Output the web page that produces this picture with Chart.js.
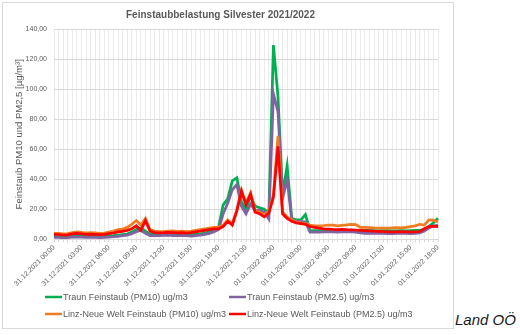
<!DOCTYPE html>
<html>
<head>
<meta charset="utf-8">
<script src="https://cdn.jsdelivr.net/npm/chart.js@4.4.1/dist/chart.umd.min.js"></script>
<style>
  body { margin: 0; background: #fff; }
  #box { position: absolute; left: 2px; top: 2px; width: 450px; height: 325px; border: 1px solid #d9d9d9; }
  #src { position: absolute; left: 455px; top: 311px; font: italic 15px "Liberation Sans", Arial, sans-serif; color: #1a1a1a; }
</style>
</head>
<body>
<div id="box"><canvas id="myChart" width="450" height="325"></canvas></div>
<div id="src">Land OÖ</div>
<script>
// half-hourly values, 31.12.2021 00:00 .. 01.01.2022 18:00
var xTickLabels = ['31.12.2021 00:00', '31.12.2021 03:00', '31.12.2021 06:00', '31.12.2021 09:00',
    '31.12.2021 12:00', '31.12.2021 15:00', '31.12.2021 18:00', '31.12.2021 21:00',
    '01.01.2022 00:00', '01.01.2022 03:00', '01.01.2022 06:00', '01.01.2022 09:00',
    '01.01.2022 12:00', '01.01.2022 15:00', '01.01.2022 18:00'];

var categories = [];
for (var i = 0; i <= 84; i++) {
    var day = i < 48 ? '31.12.2021' : '01.01.2022';
    var h = Math.floor((i % 48) / 2);
    categories.push(day + ' ' + (h < 10 ? '0' + h : h) + ':' + (i % 2 ? '30' : '00'));
}

var traunPM10 = [2.0, 1.8, 1.5, 1.7, 2.2, 2.5, 2.3, 2.0, 2.1, 2.0, 1.8, 1.9, 2.2, 2.4, 2.8, 3.2, 3.5, 4.8,
    6.5, 7.5, 5.5, 3.5,
    3.2, 3.3, 3.5, 3.6, 3.4, 3.3, 3.5, 3.2, 3.0, 3.3, 3.6, 4.2,
    5.0, 6.0, 8.0, 23, 27, 39, 41, 25, 20, 29, 22, 21, 20, 17.5,
    129.5, 95, 30, 49, 14, 13, 13, 16.5, 6.0,
    5.8, 5.8, 5.8, 5.9, 5.9, 5.8, 5.9, 6.0, 6.0, 6.0, 5.8, 5.9, 5.8, 5.8, 5.7, 5.8, 5.8, 5.6, 5.7, 5.8,
    5.7, 5.8, 5.9, 6.0, 6.5, 8.5, 11.0, 14.0];
var traunPM25 = [1.3, 1.2, 1.0, 1.1, 1.4, 1.6, 1.5, 1.3, 1.4, 1.3, 1.2, 1.3, 1.5, 1.7, 2.0, 2.4, 2.8, 3.8,
    5.0, 6.0, 4.0, 2.5,
    2.4, 2.5, 2.6, 2.7, 2.5, 2.4, 2.6, 2.4, 2.2, 2.5, 2.8, 3.3,
    4.0, 5.0, 6.5, 17, 24, 33, 36.5, 22, 17, 23.5, 19, 19.5, 18, 13.5,
    97, 85, 27, 40, 13, 12, 12, 11.5, 4.8,
    4.8, 4.8, 4.9, 5.0, 4.9, 4.8, 5.0, 5.0, 4.9, 4.8, 4.2, 4.0, 4.0, 3.9, 4.0, 3.9, 3.8, 3.8, 3.9, 4.0,
    3.9, 3.8, 4.0, 4.2, 5.5, 7.5, 8.8, 9.5];
var linzPM10 = [4.0, 4.0, 3.6, 3.8, 4.5, 5.0, 4.6, 4.2, 4.4, 4.3, 4.0, 4.2, 4.8, 5.5, 6.5, 6.8, 8.0, 10.0,
    12.5, 9.5, 14.0, 6.5,
    5.5, 5.3, 5.2, 5.5, 5.6, 5.3, 5.4, 5.2, 5.5, 6.0, 6.5, 7.0,
    7.5, 8.0, 8.0, 9.5, 13, 10.5, 19.5, 33, 24, 31, 19, 18, 16.5, 18.5,
    30, 69, 18, 15, 13, 11.5, 11, 10.5, 9.5,
    9.0, 9.0, 9.2, 9.5, 9.4, 9.0, 9.3, 9.6, 10.0, 9.8, 8.0, 8.0, 7.8, 7.6, 7.5, 7.4, 7.5, 7.6, 7.8, 7.7,
    8.0, 8.5, 9.0, 10.0, 9.5, 13.0, 12.8, 11.5];
var linzPM25 = [3.3, 3.2, 2.8, 3.0, 3.6, 4.0, 3.7, 3.3, 3.4, 3.3, 3.1, 3.3, 3.8, 4.2, 5.0, 5.3, 6.0, 7.0,
    9.0, 6.0, 12.5, 5.5,
    4.5, 4.3, 4.4, 4.6, 4.5, 4.3, 4.4, 4.2, 4.5, 5.0, 5.4, 6.0,
    6.5, 7.0, 7.0, 8.5, 12, 9.5, 19, 32, 23, 30, 18, 17, 15, 17.5,
    28, 62, 17, 14, 12, 11, 10.5, 10, 8.5,
    8.0, 7.5, 7.0, 6.8, 6.6, 6.5, 6.6, 6.4, 6.3, 6.2, 6.0, 5.8, 5.6, 5.4, 5.3, 5.2, 5.0, 5.0, 5.0, 5.1,
    5.0, 5.0, 5.0, 5.2, 7.0, 8.5, 8.8, 8.4];

var seriesNames = ['Traun Feinstaub (PM10) ug/m3', 'Traun Feinstaub (PM2.5) ug/m3',
    'Linz-Neue Welt Feinstaub (PM10) ug/m3', 'Linz-Neue Welt Feinstaub (PM2.5) ug/m3'];
var seriesColors = ['#00b050', '#8064a2', '#f07c22', '#ff0000'];
var seriesData = [traunPM10, traunPM25, linzPM10, linzPM25];

var font = '"Liberation Sans", Arial, sans-serif';
var grey = '#595959';

// legend drawn like the excel one: two fixed columns
var excelLegend = {
    id: 'excelLegend',
    afterDraw: function (chart) {
        var ctx = chart.ctx;
        ctx.save();
        ctx.font = '9px ' + font;
        ctx.textBaseline = 'middle';
        chart.data.datasets.forEach(function (ds, i) {
            var x = i % 2 ? 226 : 42;
            var y = i < 2 ? 294 : 311;
            ctx.strokeStyle = ds.borderColor;
            ctx.lineWidth = 2.5;
            ctx.beginPath();
            ctx.moveTo(x, y);
            ctx.lineTo(x + 17, y);
            ctx.stroke();
            ctx.fillStyle = grey;
            ctx.fillText(ds.label, x + 18, y + 0.5);
        });
        ctx.restore();
    }
};

var cvas = document.getElementById('myChart').getContext('2d');
var myChart = new Chart(cvas, {
    type: 'line',
    data: {
        labels: categories,
        datasets: seriesData.map(function (d, i) {
            return {
                label: seriesNames[i],
                data: d,
                borderColor: seriesColors[i],
                backgroundColor: seriesColors[i],
                borderWidth: 2.75,
                pointRadius: 0,
                tension: 0,
                order: 4 - i
            };
        })
    },
    options: {
        responsive: false,
        animation: false,
        layout: { padding: { left: 0, right: 15, top: 0, bottom: 0 } },
        plugins: {
            legend: { display: false },
            tooltip: { enabled: false },
            title: {
                display: true,
                text: 'Feinstaubbelastung Silvester 2021/2022',
                color: grey,
                font: { family: font, size: 10, weight: 'bold' },
                padding: { top: 6, bottom: 8.3 }
            }
        },
        scales: {
            x: {
                afterFit: function (scale) { scale.height = 88.7; },
                grid: { color: '#ebebeb', tickLength: 3, tickColor: '#d9d9d9' },
                border: { color: '#d9d9d9' },
                ticks: {
                    autoSkip: false,
                    minRotation: 45,
                    maxRotation: 45,
                    padding: 1,
                    color: grey,
                    font: { family: font, size: 7 },
                    callback: function (value) {
                        var lbl = this.getLabelForValue(value);
                        return xTickLabels.indexOf(lbl) >= 0 ? lbl : '';
                    }
                }
            },
            y: {
                min: 0,
                max: 140,
                afterFit: function (scale) { scale.width = 51; },
                grid: { color: '#d9d9d9', drawTicks: false },
                border: { display: false },
                ticks: {
                    stepSize: 20,
                    padding: 7,
                    color: grey,
                    font: { family: font, size: 7 },
                    callback: function (v) { return v.toFixed(2).replace('.', ','); }
                },
                title: {
                    display: true,
                    text: 'Feinstaub PM10 und PM2,5 [µg/m³]',
                    color: grey,
                    font: { family: font, size: 9.5 },
                    padding: { top: 10.3, bottom: 0 }
                }
            }
        }
    },
    plugins: [excelLegend]
});
</script>
</body>
</html>
